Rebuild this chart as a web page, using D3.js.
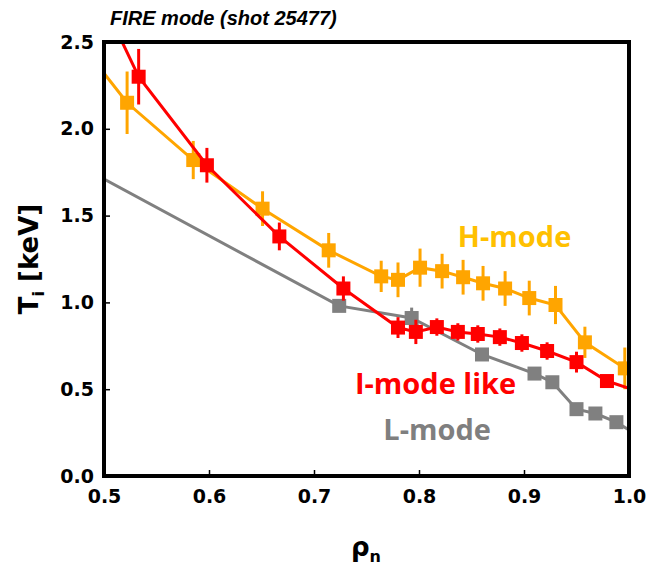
<!DOCTYPE html>
<html lang="en">
<head>
<meta charset="UTF-8">
<title>FIRE mode (shot 25477)</title>
<script src="https://d3js.org/d3.v7.min.js"></script>
<style>
    body { margin: 0; background: #fff; }
    svg text { font-family: "DejaVu Sans", sans-serif; font-weight: bold; }
</style>
</head>
<body>
<div id="chart"></div>
<script>
// H-mode (orange)
const hX   = [0.522, 0.585, 0.651, 0.714, 0.764, 0.780, 0.801, 0.822, 0.842, 0.861, 0.882, 0.905, 0.930, 0.958, 0.996];
const hY   = [2.15, 1.82, 1.54, 1.30, 1.15, 1.13, 1.20, 1.18, 1.145, 1.11, 1.08, 1.025, 0.985, 0.77, 0.62];
const hErr = [0.18, 0.11, 0.10, 0.10, 0.09, 0.10, 0.11, 0.10, 0.10, 0.10, 0.10, 0.10, 0.11, 0.09, 0.12];
// I-mode like (red)
const iX   = [0.533, 0.598, 0.667, 0.728, 0.780, 0.797, 0.817, 0.837, 0.856, 0.877, 0.898, 0.922, 0.950, 0.979];
const iY   = [2.30, 1.79, 1.38, 1.08, 0.855, 0.83, 0.858, 0.83, 0.818, 0.80, 0.766, 0.72, 0.656, 0.547];
const iErr = [0.16, 0.10, 0.08, 0.07, 0.06, 0.07, 0.05, 0.05, 0.05, 0.05, 0.05, 0.05, 0.06, 0.03];
// L-mode (gray)
const lX   = [0.724, 0.793, 0.860, 0.910, 0.927, 0.950, 0.968, 0.988];
const lY   = [0.98, 0.91, 0.70, 0.59, 0.54, 0.385, 0.36, 0.31];
const lErr = [0, 0.06, 0, 0, 0, 0, 0, 0];
// line ends beyond the last markers (no marker drawn)
const hEnds = [[0.5, 2.32], [1.0, 0.60]];
const iEnds = [[0.5, 2.72], [1.0, 0.505]];
const lEnds = [[0.5, 1.71], [1.0, 0.265]];

const xTicks = [0.5, 0.6, 0.7, 0.8, 0.9, 1.0];
const yTicks = [0.0, 0.5, 1.0, 1.5, 2.0, 2.5];

const W = 657, H = 568;
const m = {left: 104, top: 42, right: 28, bottom: 92};
const w = W - m.left - m.right, h = H - m.top - m.bottom;

const svg = d3.select('#chart').append('svg').attr('width', W).attr('height', H);
const g = svg.append('g').attr('transform', 'translate(' + m.left + ',' + m.top + ')');

const x = d3.scaleLinear().domain([0.5, 1.0]).range([0, w]);
const y = d3.scaleLinear().domain([0, 2.5]).range([h, 0]);

svg.append('defs').append('clipPath').attr('id', 'clip')
    .append('rect').attr('width', w).attr('height', h);

const plot = g.append('g').attr('clip-path', 'url(#clip)');

function series(xs, ys, errs, ends, color) {
    let pts = xs.map((v, i) => ({x: v, y: ys[i], e: errs[i]}));
    let linePts = [{x: ends[0][0], y: ends[0][1]}].concat(pts, [{x: ends[1][0], y: ends[1][1]}]);
    let line = d3.line().x(d => x(d.x)).y(d => y(d.y));
    plot.append('path').datum(linePts)
        .attr('d', line).attr('fill', 'none')
        .attr('stroke', color).attr('stroke-width', 3);
    plot.selectAll(null).data(pts.filter(d => d.e > 0)).enter()
        .append('line')
        .attr('x1', d => x(d.x)).attr('x2', d => x(d.x))
        .attr('y1', d => y(d.y - d.e)).attr('y2', d => y(d.y + d.e))
        .attr('stroke', color).attr('stroke-width', 3);
    plot.selectAll(null).data(pts).enter()
        .append('rect')
        .attr('x', d => x(d.x) - 7).attr('y', d => y(d.y) - 7)
        .attr('width', 14).attr('height', 14)
        .attr('fill', color);
}

series(lX, lY, lErr, lEnds, '#808080');
series(hX, hY, hErr, hEnds, '#FFA500');
series(iX, iY, iErr, iEnds, '#FF0000');

// axes
const xAxis = d3.axisBottom(x).tickValues(xTicks).tickFormat(d3.format('.1f')).tickSizeInner(-6).tickSizeOuter(0).tickPadding(10);
const yAxis = d3.axisLeft(y).tickValues(yTicks).tickFormat(d3.format('.1f')).tickSizeInner(-6).tickSizeOuter(0).tickPadding(10);

const gx = g.append('g').attr('transform', 'translate(0,' + h + ')').call(xAxis);
const gy = g.append('g').call(yAxis);
[gx, gy].forEach(a => {
    a.select('.domain').remove();
    a.selectAll('line').attr('stroke', '#000').attr('stroke-width', 1.5);
    a.selectAll('text').style('font-size', '19px').attr('fill', '#000');
});
gx.selectAll('text').attr('dy', '0.9em');

g.append('rect').attr('width', w).attr('height', h)
    .attr('fill', 'none').attr('stroke', '#000').attr('stroke-width', 4);

// title
svg.append('text').attr('x', 110).attr('y', 25)
    .style('font-family', '"Liberation Sans", Arial, sans-serif')
    .style('font-style', 'italic').style('font-size', '20px')
    .text('FIRE mode (shot 25477)');

// axis labels
const yl = svg.append('text')
    .attr('transform', 'translate(38,' + (m.top + h / 2) + ') rotate(-90)')
    .attr('text-anchor', 'middle').style('font-size', '26px');
yl.append('tspan').text('T');
yl.append('tspan').attr('dy', 6).style('font-size', '16px').text('i');
yl.append('tspan').attr('dy', -6).text(' [keV]');

const xl = svg.append('text').attr('x', 366).attr('y', 556)
    .attr('text-anchor', 'middle').style('font-size', '26px');
xl.append('tspan').text('ρ');
xl.append('tspan').attr('dy', 6).style('font-size', '16px').text('n');

// series labels
const labels = [
    {t: 'H-mode', xv: 0.837, yv: 1.32, c: '#FFC000'},
    {t: 'I-mode like', xv: 0.739, yv: 0.47, c: '#FF0000'},
    {t: 'L-mode', xv: 0.766, yv: 0.21, c: '#7F7F7F'}
];
g.selectAll('.lab').data(labels).enter().append('text')
    .attr('class', 'lab')
    .attr('x', d => x(d.xv)).attr('y', d => y(d.yv))
    .style('font-family', '"Open Sans", sans-serif')
    .style('font-size', '29px').attr('fill', d => d.c)
    .text(d => d.t);
</script>
</body>
</html>
